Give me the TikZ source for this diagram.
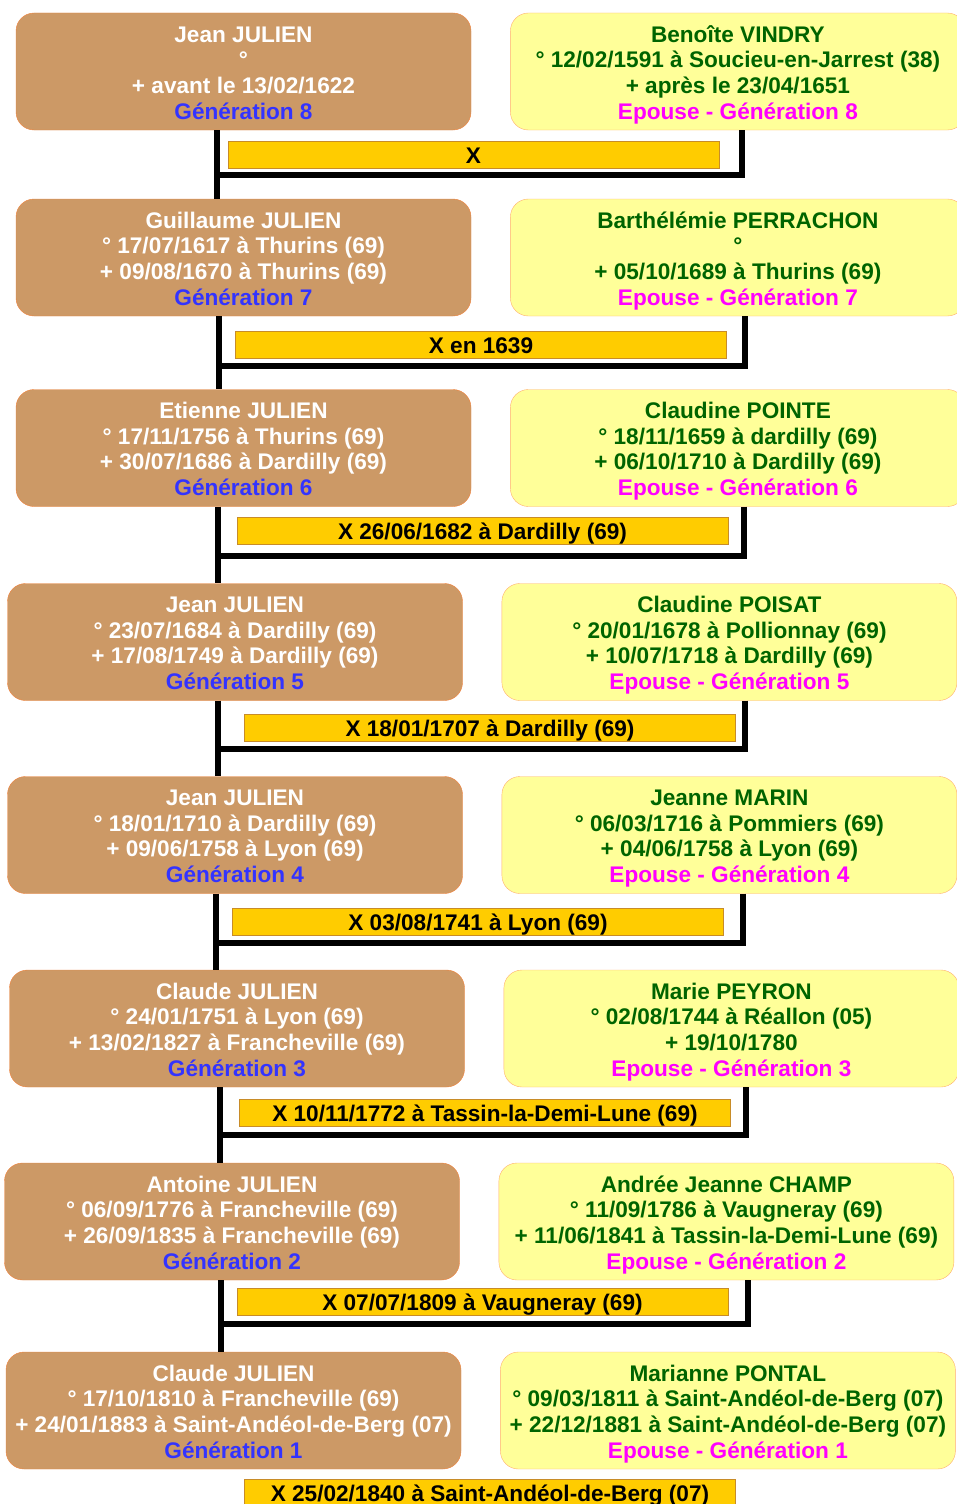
\documentclass[tikz,border=0pt]{standalone}
\usepackage{fontspec}
\setmainfont{Liberation Sans}
\usepackage{tikz}
\usetikzlibrary{positioning}
\definecolor{brun}{RGB}{204,153,102}
\definecolor{bordh}{RGB}{240,130,60}
\definecolor{jaune}{RGB}{255,255,153}
\definecolor{bordf}{RGB}{255,175,110}
\definecolor{vertfonce}{RGB}{0,100,0}
\definecolor{bleugen}{RGB}{51,51,255}
\definecolor{rosegen}{RGB}{255,0,255}
\definecolor{orbar}{RGB}{255,204,0}
\definecolor{bordm}{RGB}{200,140,40}
\newcommand{\policeboite}{\fontsize{22.6}{25.7}\selectfont\bfseries}
\tikzset{
    node distance = 39pt, % gap between the husband box and the wife box
    homme/.style = {rectangle, rounded corners=18pt, draw=bordh, fill=brun, text=white, minimum width=455pt, minimum height=117pt, inner sep=2pt, align=center, font=\policeboite,
        execute at begin node={\rule{0pt}{99.9pt}}, execute at end node={\rule[-4.7pt]{0pt}{4.7pt}}}, % husband box, the two rules keep the four lines at the same place in every box
    femme/.style = {homme, draw=bordf, fill=jaune, text=vertfonce}, % wife box, same size as the husband box
    mariage/.style = {rectangle, draw=bordm, fill=orbar, minimum width=491pt, minimum height=27pt, inner sep=0pt, text height=16.2pt, text depth=0pt, font=\policeboite}, % wedding bar
    lien/.style = {line width=5.5pt, line join=miter, black}
}
\begin{document}
\begin{tikzpicture}[x=1pt, y=-1pt]
    \useasboundingbox (0,0) rectangle (956,1504);

    % generation 8
    \node[homme] (h8) at (243.5,71.5) {Jean JULIEN\\°\\+ avant le 13/02/1622\\\textcolor{bleugen}{Génération 8}};
    \node[femme] (f8) [right=of h8] {Benoîte VINDRY\\° 12/02/1591 à Soucieu-en-Jarrest (38)\\+ après le 23/04/1651\\\textcolor{rosegen}{Epouse - Génération 8}};
    \node[mariage] (m8) at (473.5,155) {X};
    \coordinate (v8) at (217,175);
    \coordinate (w8) at (742,175);

    % generation 7
    \node[homme] (h7) at (243.5,257.5) {Guillaume JULIEN\\° 17/07/1617 à Thurins (69)\\+ 09/08/1670 à Thurins (69)\\\textcolor{bleugen}{Génération 7}};
    \node[femme] (f7) [right=of h7] {Barthélémie PERRACHON\\°\\+ 05/10/1689 à Thurins (69)\\\textcolor{rosegen}{Epouse - Génération 7}};
    \node[mariage] (m7) at (481,345) {X en 1639};
    \coordinate (v7) at (219,366);
    \coordinate (w7) at (745,366);

    % generation 6
    \node[homme] (h6) at (243.5,448) {Etienne JULIEN\\° 17/11/1756 à Thurins (69)\\+ 30/07/1686 à Dardilly (69)\\\textcolor{bleugen}{Génération 6}};
    \node[femme] (f6) [right=of h6] {Claudine POINTE\\° 18/11/1659 à dardilly (69)\\+ 06/10/1710 à Dardilly (69)\\\textcolor{rosegen}{Epouse - Génération 6}};
    \node[mariage] (m6) at (482.5,531) {X 26/06/1682 à Dardilly (69)};
    \coordinate (v6) at (218,556);
    \coordinate (w6) at (744,556);

    % generation 5
    \node[homme] (h5) at (235,642) {Jean JULIEN\\° 23/07/1684 à Dardilly (69)\\+ 17/08/1749 à Dardilly (69)\\\textcolor{bleugen}{Génération 5}};
    \node[femme] (f5) [right=of h5] {Claudine POISAT\\° 20/01/1678 à Pollionnay (69)\\+ 10/07/1718 à Dardilly (69)\\\textcolor{rosegen}{Epouse - Génération 5}};
    \node[mariage] (m5) at (490,728) {X 18/01/1707 à Dardilly (69)};
    \coordinate (v5) at (218,749);
    \coordinate (w5) at (745,749);

    % generation 4
    \node[homme] (h4) at (235,835) {Jean JULIEN\\° 18/01/1710 à Dardilly (69)\\+ 09/06/1758 à Lyon (69)\\\textcolor{bleugen}{Génération 4}};
    \node[femme] (f4) [right=of h4] {Jeanne MARIN\\° 06/03/1716 à Pommiers (69)\\+ 04/06/1758 à Lyon (69)\\\textcolor{rosegen}{Epouse - Génération 4}};
    \node[mariage] (m4) at (478,922) {X 03/08/1741 à Lyon (69)};
    \coordinate (v4) at (216,943);
    \coordinate (w4) at (743,943);

    % generation 3
    \node[homme] (h3) at (237,1028.5) {Claude JULIEN\\° 24/01/1751 à Lyon (69)\\+ 13/02/1827 à Francheville (69)\\\textcolor{bleugen}{Génération 3}};
    \node[femme] (f3) [right=of h3] {Marie PEYRON\\° 02/08/1744 à Réallon (05)\\+ 19/10/1780\\\textcolor{rosegen}{Epouse - Génération 3}};
    \node[mariage] (m3) at (485,1113) {X 10/11/1772 à Tassin-la-Demi-Lune (69)};
    \coordinate (v3) at (220,1135);
    \coordinate (w3) at (746,1135);

    % generation 2
    \node[homme] (h2) at (232,1221.5) {Antoine JULIEN\\° 06/09/1776 à Francheville (69)\\+ 26/09/1835 à Francheville (69)\\\textcolor{bleugen}{Génération 2}};
    \node[femme] (f2) [right=of h2] {Andrée Jeanne CHAMP\\° 11/09/1786 à Vaugneray (69)\\+ 11/06/1841 à Tassin-la-Demi-Lune (69)\\\textcolor{rosegen}{Epouse - Génération 2}};
    \node[mariage] (m2) at (482.5,1302) {X 07/07/1809 à Vaugneray (69)};
    \coordinate (v2) at (221,1324);
    \coordinate (w2) at (748,1324);

    % generation 1
    \node[homme] (h1) at (233.5,1410.5) {Claude JULIEN\\° 17/10/1810 à Francheville (69)\\+ 24/01/1883 à Saint-Andéol-de-Berg (07)\\\textcolor{bleugen}{Génération 1}};
    \node[femme] (f1) [right=of h1] {Marianne PONTAL\\° 09/03/1811 à Saint-Andéol-de-Berg (07)\\+ 22/12/1881 à Saint-Andéol-de-Berg (07)\\\textcolor{rosegen}{Epouse - Génération 1}};
    \node[mariage] (m1) at (490,1493) {X 25/02/1840 à Saint-Andéol-de-Berg (07)};

    % father down to the child, mother across to the father's line
    \draw[lien] (h8.south -| v8) -- (h7.north -| v8);
    \draw[lien] (f8.south -| w8) |- (v8);
    \draw[lien] (h7.south -| v7) -- (h6.north -| v7);
    \draw[lien] (f7.south -| w7) |- (v7);
    \draw[lien] (h6.south -| v6) -- (h5.north -| v6);
    \draw[lien] (f6.south -| w6) |- (v6);
    \draw[lien] (h5.south -| v5) -- (h4.north -| v5);
    \draw[lien] (f5.south -| w5) |- (v5);
    \draw[lien] (h4.south -| v4) -- (h3.north -| v4);
    \draw[lien] (f4.south -| w4) |- (v4);
    \draw[lien] (h3.south -| v3) -- (h2.north -| v3);
    \draw[lien] (f3.south -| w3) |- (v3);
    \draw[lien] (h2.south -| v2) -- (h1.north -| v2);
    \draw[lien] (f2.south -| w2) |- (v2);
\end{tikzpicture}
\end{document}
